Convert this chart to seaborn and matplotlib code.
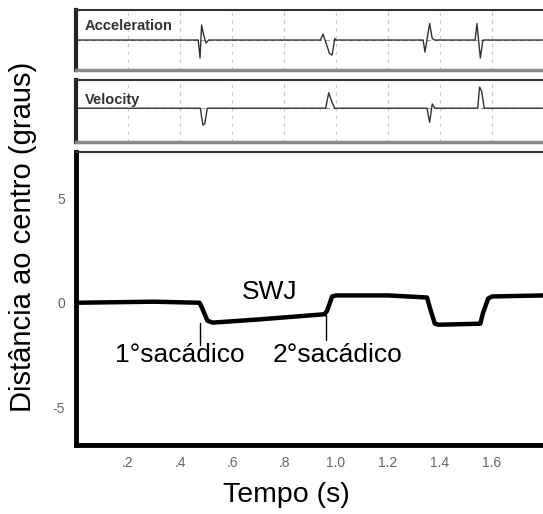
import matplotlib
matplotlib.use("Agg")
import matplotlib.pyplot as plt
import seaborn as sns
import pandas as pd

sns.set_style("white")
plt.rcParams['font.family'] = ['Liberation Sans', 'DejaVu Sans']

# Eye position (degrees) over time (s)
pos_time = [0.0, 0.30, 0.475, 0.485, 0.505, 0.525, 0.70, 0.955, 0.965, 0.985, 1.00, 1.20, 1.35, 1.36, 1.38, 1.395, 1.555, 1.565, 1.585, 1.60, 1.80]
pos_value = [0.0, 0.05, 0.0, -0.25, -0.85, -0.95, -0.8, -0.55, -0.4, 0.3, 0.35, 0.35, 0.25, -0.2, -1.0, -1.05, -1.0, -0.5, 0.2, 0.3, 0.35]

# Acceleration trace (arbitrary units)
acc_time = [0.0, 0.47, 0.477, 0.483, 0.49, 0.50, 0.51, 0.94, 0.95, 0.975, 0.985, 0.995, 1.0,
            1.335, 1.342, 1.36, 1.37, 1.38, 1.535, 1.542, 1.555, 1.565, 1.80]
acc_value = [0.0, 0.0, -0.6, 0.5, 0.2, -0.1, 0.0, 0.0, 0.2, -0.45, -0.5, 0.05, 0.0,
             0.0, -0.4, 0.55, 0.05, 0.0, 0.0, 0.55, -0.6, 0.0, 0.0]

# Velocity trace (arbitrary units)
vel_time = [0.0, 0.478, 0.488, 0.495, 0.505, 0.96, 0.972, 0.985, 0.995,
            1.35, 1.36, 1.37, 1.38, 1.545, 1.552, 1.56, 1.57, 1.80]
vel_value = [0.0, 0.0, -0.6, -0.55, 0.0, 0.0, 0.55, 0.2, 0.0,
             0.0, -0.5, 0.15, 0.0, 0.0, 0.75, 0.6, 0.0, 0.0]

x_ticks = [0.2, 0.4, 0.6, 0.8, 1.0, 1.2, 1.4, 1.6]
x_tick_labels = [".2", ".4", ".6", ".8", "1.0", "1.2", "1.4", "1.6"]
y_ticks = [5, 0, -5]
y_tick_labels = ["5", "0", "-5"]

XMAX = 1.796

fig = plt.figure(figsize=(5.43, 5.14), dpi=100)
ax_acc = fig.add_axes([0.14, 0.8638, 0.86, 0.1167])
ax_vel = fig.add_axes([0.14, 0.7237, 0.86, 0.1206])
ax = fig.add_axes([0.14, 0.134, 0.86, 0.5703])

for pax, t, v, label, ylim, ly in [(ax_acc, acc_time, acc_value, "Acceleration", (-1, 1), 0.73),
                                   (ax_vel, vel_time, vel_value, "Velocity", (-1.2, 1.0), 0.68)]:
    df = pd.DataFrame({"t": t, "v": v})
    for xt in x_ticks:
        pax.axvline(xt, color="#c8c8c8", lw=0.8, ls=(0, (3, 4)), zorder=0)
    pax.axhline(0, color="#999999", lw=0.8, ls=(0, (4, 3)), zorder=0)
    sns.lineplot(data=df, x="t", y="v", ax=pax, color="#333333", lw=1.0, estimator=None, sort=False)
    pax.set_xlim(0, XMAX)
    pax.set_ylim(*ylim)
    pax.set_xticks([])
    pax.set_yticks([])
    pax.set_xlabel("")
    pax.set_ylabel("")
    pax.spines["left"].set_linewidth(3)
    pax.spines["left"].set_color("#222222")
    pax.spines["top"].set_linewidth(1.5)
    pax.spines["top"].set_color("#333333")
    pax.spines["bottom"].set_linewidth(2.5)
    pax.spines["bottom"].set_color("#888888")
    pax.spines["right"].set_visible(False)
    pax.text(0.018, ly, label, transform=pax.transAxes, fontsize=10.5,
             fontweight="bold", color="#333333", va="center", ha="left")

df_pos = pd.DataFrame({"t": pos_time, "v": pos_value})
sns.lineplot(data=df_pos, x="t", y="v", ax=ax, color="black", lw=3.2, estimator=None, sort=False)
ax.set_xlim(0, XMAX)
ax.set_ylim(-6.8, 7.2)
ax.set_xticks(x_ticks)
ax.set_xticklabels(x_tick_labels, fontsize=10, color="#666666")
ax.set_yticks(y_ticks)
ax.set_yticklabels(y_tick_labels, fontsize=10, color="#666666")
ax.tick_params(length=0, pad=8)
ax.spines["left"].set_linewidth(3.5)
ax.spines["left"].set_color("black")
ax.spines["bottom"].set_linewidth(3.5)
ax.spines["bottom"].set_color("black")
ax.spines["top"].set_linewidth(1.5)
ax.spines["top"].set_color("#333333")
ax.spines["right"].set_visible(False)

ax.set_xlabel("Tempo (s)", fontsize=20.5, color="black")
ax.set_ylabel("Distância ao centro (graus)", fontsize=21, color="black")
ax.xaxis.set_label_coords(0.45, -0.125)
ax.yaxis.set_label_coords(-0.084, 0.71)

ax.text(0.746, 0.53, "SWJ", fontsize=19, ha="center", va="center", color="black")
ax.text(0.40, -2.5, "1°sacádico", fontsize=19, ha="center", va="center", color="black")
ax.text(1.004, -2.5, "2°sacádico", fontsize=19, ha="center", va="center", color="black")
ax.plot([0.477, 0.477], [-0.95, -2.0], color="black", lw=1)
ax.plot([0.962, 0.962], [-0.6, -1.77], color="black", lw=1)

fig.savefig("out.png", dpi=100)
